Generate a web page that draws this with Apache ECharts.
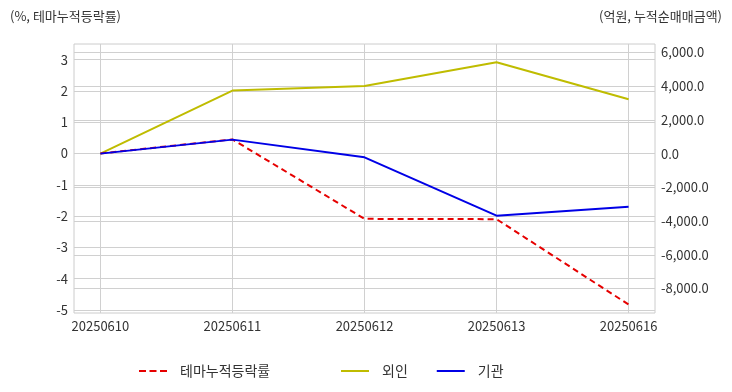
<!DOCTYPE html>
<html>
<head>
<meta charset="utf-8">
<script src="https://cdn.jsdelivr.net/npm/echarts@6/dist/echarts.min.js"></script>
<style>
html,body{margin:0;padding:0;background:#fff;}
#c{width:732px;height:392px;}
</style>
</head>
<body>
<div id="c"></div>
<script>
const categories = ['20250610', '20250611', '20250612', '20250613', '20250616'];
const themeRate = [0, 0.45, -2.09, -2.1, -4.83];
const foreign = [0, 3740, 4010, 5420, 3220];
const institution = [0, 830, -220, -3680, -3150];
const leftTicks = [-5, -4, -3, -2, -1, 0, 1, 2, 3];
const rightTicks = [-8000, -6000, -4000, -2000, 0, 2000, 4000, 6000];
const catIdx = categories.map((c, i) => i);

const FONT = '"Noto Sans CJK KR", "Noto Sans", sans-serif';
const pair = arr => arr.map((v, i) => [i, v]);
const SOLID = 'path://M0,0h28v2h-28z';
const DASHED = 'path://M0,0h7v2h-7z M10.5,0h7v2h-7z M21,0h7v2h-7z';

const chart = echarts.init(document.getElementById('c'));
chart.setOption({
  animation: false,
  textStyle: { fontFamily: FONT },
  title: [
    { text: '(%, 테마누적등락률)', left: 5, top: 5, textStyle: { fontSize: 13, fontWeight: 'normal', color: '#333', fontFamily: FONT } },
    { text: '(억원, 누적순매매금액)', right: 5, top: 5, textStyle: { fontSize: 13, fontWeight: 'normal', color: '#333', fontFamily: FONT } }
  ],
  legend: [
    { data: [{ name: '테마누적등락률', icon: DASHED }], left: 134, top: 359, itemWidth: 28, itemHeight: 2, itemGap: 12,
      textStyle: { fontSize: 14, color: '#333', fontFamily: FONT, padding: [0, 0, 0, 8] } },
    { data: [{ name: '외인', icon: SOLID }, { name: '기관', icon: SOLID }], left: 336, top: 359, itemWidth: 28, itemHeight: 2, itemGap: 29,
      textStyle: { fontSize: 14, color: '#333', fontFamily: FONT, padding: [0, 0, 0, 8] } }
  ],
  grid: { left: 74, right: 77, top: 44, bottom: 79, show: true, borderColor: '#ccc', borderWidth: 1 },
  xAxis: {
    type: 'value', min: -0.2, max: 4.2,
    axisLine: { show: false },
    axisTick: { show: false, customValues: catIdx },
    axisLabel: { customValues: catIdx, formatter: v => categories[Math.round(v)], color: '#333', fontSize: 13, margin: 7, fontFamily: FONT },
    splitLine: { show: true, lineStyle: { color: '#d0d0d0', width: 1 } }
  },
  yAxis: [
    {
      type: 'value', min: -5.1, max: 3.5, position: 'left',
      axisLine: { show: false },
      axisTick: { show: false, customValues: leftTicks },
      axisLabel: { customValues: leftTicks, color: '#333', fontSize: 13, margin: 6, fontFamily: FONT },
      splitLine: { show: true, lineStyle: { color: '#d0d0d0', width: 1 } }
    },
    {
      type: 'value', min: -9450, max: 6500, position: 'right',
      axisLine: { show: false },
      axisTick: { show: false, customValues: rightTicks },
      axisLabel: { customValues: rightTicks, color: '#333', fontSize: 13, margin: 6, fontFamily: FONT,
        formatter: v => v.toLocaleString('en-US', { minimumFractionDigits: 1, maximumFractionDigits: 1 }) },
      splitLine: { show: true, lineStyle: { color: '#d0d0d0', width: 1 } }
    }
  ],
  series: [
    { name: '테마누적등락률', type: 'line', yAxisIndex: 0, data: pair(themeRate), symbol: 'none',
      itemStyle: { color: '#e60000' }, lineStyle: { color: '#e60000', width: 2, type: [6, 4] }, z: 3 },
    { name: '외인', type: 'line', yAxisIndex: 1, data: pair(foreign), symbol: 'none',
      itemStyle: { color: '#bfbc00' }, lineStyle: { color: '#bfbc00', width: 2 }, z: 2 },
    { name: '기관', type: 'line', yAxisIndex: 1, data: pair(institution), symbol: 'none',
      itemStyle: { color: '#0000e6' }, lineStyle: { color: '#0000e6', width: 2 }, z: 4 }
  ]
});
</script>
</body>
</html>
